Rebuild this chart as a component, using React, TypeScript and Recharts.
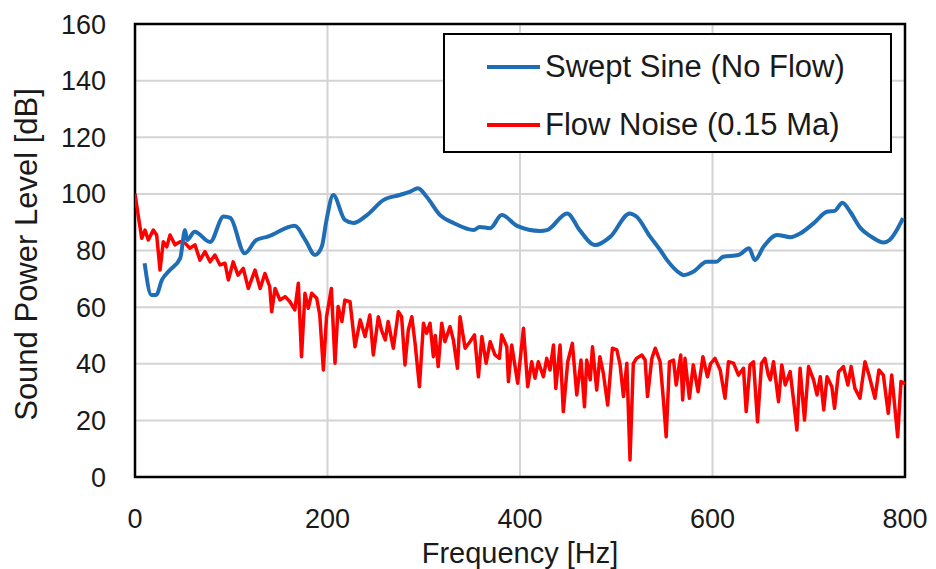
import React from 'react'
import { LineChart, Line, XAxis, YAxis, CartesianGrid, ReferenceArea } from 'recharts'

const FONT = "'Liberation Sans', Arial, sans-serif"
const BLUE = '#1f6eb5'
const RED = '#ff0000'

const xTicks = [0, 200, 400, 600, 800]
const yTicks = [0, 20, 40, 60, 80, 100, 120, 140, 160]

// Swept Sine (No Flow)
const sweptFreq = [
  10, 17, 22, 28, 36, 47, 52, 54, 62, 78, 92, 99, 114, 126, 138, 166, 177, 187, 194, 199,
  206, 218, 227, 241, 258, 275, 286, 294, 303, 317, 331, 352, 358, 369, 381, 397, 421, 428, 449, 462,
  478, 494, 514, 521, 535, 546, 553, 566, 570, 580, 594, 604, 611, 627, 638, 644, 653, 667, 681, 691,
  705, 719, 727, 735, 743, 754, 764, 778, 784, 798,
]
const sweptLevel = [
  75.5, 64.3, 64.3, 69.6, 73, 77.3, 87.2, 83.7, 86.6, 83, 92, 91.5, 79, 83.7, 84.9, 88.7, 83.7, 78.4, 81.3, 90.8,
  99.6, 90.8, 89.7, 92.5, 97.8, 99.6, 100.8, 102, 99, 92.5, 89.7, 87.2, 88.3, 87.9, 92.5, 88.7, 86.9, 87.2, 93.1, 87.2,
  81.9, 84.9, 93.1, 92, 85, 80, 76.5, 72, 71.3, 72.5, 76, 76, 77.8, 78.4, 80.8, 76.6, 81.3, 85.5, 84.7, 86,
  89.6, 93.7, 94, 96.9, 93.7, 87.8, 85.1, 82.8, 83.7, 91.4,
]

// Flow Noise (0.15 Ma)
const noiseFreq = [
  0, 3.5, 7, 10.4, 13.8, 19, 22.5, 26, 29.4, 33, 36.4, 41.6, 46.8, 52, 57, 62.3, 67.5, 72.7, 78, 83,
  88.3, 93.5, 97, 102, 107, 112.5, 117.7, 124.7, 130, 135, 140, 142, 145.5, 150.6, 156, 161, 166, 169.7, 173, 176.6,
  180, 183.6, 188.8, 192, 195.7, 199, 204, 207.8, 211, 215, 218, 223.4, 228.6, 234, 239, 244, 247.6, 252.8, 256, 260,
  263, 268.4, 273.6, 277, 280.5, 284, 287.6, 291, 295.5, 299.7, 303, 306.5, 310, 312, 315, 318.7, 322, 327.3, 330.8, 335,
  337.7, 343, 348, 352.7, 356.8, 360.4, 364.8, 369, 374, 378.6, 381, 386.3, 388, 391.4, 397.6, 403.6, 408, 412.2, 415.6, 419,
  424.3, 427.8, 431.2, 434.8, 437.2, 441.6, 445, 449.6, 454.4, 459, 463.4, 467, 469.3, 473, 475.3, 479.7, 483, 486.6, 491.1, 496,
  500.6, 504, 507.5, 511, 514.3, 517.7, 521, 526.6, 530, 532.5, 537, 540.5, 545.6, 549, 551.9, 555.3, 559.5, 562.3, 567, 569,
  571.4, 576, 580, 585, 590, 594.8, 598, 602.6, 608, 613, 616.6, 621.8, 627, 632.2, 635, 639, 642.6, 646.8, 651, 654.5,
  658, 660, 663.4, 668.6, 672, 675.6, 680.7, 684.2, 687.7, 691, 695.6, 699.8, 705, 708.6, 712, 715.6, 719, 724, 726.8, 731,
  736, 740.7, 744, 748, 753.2, 758.4, 762.6, 768.8, 772.9, 777.5, 782.6, 786.2, 792.4, 795.8, 800,
]
const noiseLevel = [
  100, 92, 84.3, 87.2, 83.7, 87.2, 85.5, 73.1, 83.1, 81.3, 85.5, 82, 83.1, 82.6, 80.8, 82, 76.6, 79.6, 76, 78.4,
  74.9, 75.5, 69.6, 76, 71.3, 73.7, 66.6, 73.1, 66.6, 71.9, 67.2, 58.4, 66.6, 62.5, 63.7, 61.9, 59, 68.4, 42.5, 64.9,
  59.6, 64.9, 63.1, 57.2, 37.8, 56.6, 66.6, 40.2, 60.2, 54.9, 62.5, 61.9, 46, 55.5, 49.6, 57.2, 43.1, 56.6, 52, 48.4,
  54.9, 45.5, 58.4, 56.6, 39.6, 52, 56.6, 47.2, 31.9, 54.3, 50.8, 54.3, 42.5, 50, 39, 54.3, 47.8, 53.1, 48.4, 38.4,
  56.6, 45.5, 47.8, 50.2, 35.4, 49.6, 40.2, 47.8, 43.1, 41.9, 50.2, 46, 33.7, 46.6, 33.1, 52.5, 31.9, 40.7, 34.9, 40.7,
  35.4, 41.9, 37.8, 46.6, 31.3, 46.6, 23.1, 40.7, 47.2, 29, 41.3, 24.8, 41.3, 34.3, 46, 30.7, 42.5, 36.6, 25.4, 45.5,
  44.9, 39.6, 28.4, 40.2, 6, 40, 41.9, 43.1, 41.3, 28.4, 41.9, 45.5, 40.7, 27.2, 14.2, 40.7, 41.3, 32.5, 43.1, 27.2,
  41.9, 27.8, 39.6, 30.1, 42.5, 35.4, 40, 41.9, 37.8, 27.8, 40.7, 40.2, 36, 38.4, 23.1, 39.6, 40.7, 19.5, 40.2, 41.9,
  36, 34.3, 40.7, 26.6, 39.6, 32.5, 37.2, 27.2, 16.6, 38.4, 20.1, 39, 34.3, 29, 35.4, 23.7, 35.4, 31.9, 24.3, 37.2,
  39, 32.5, 39, 31.3, 27.8, 40.7, 36, 27.8, 37.8, 36, 22.5, 36, 14.2, 33.7, 33,
]

const sweptData = sweptFreq.map((f, i) => ({ f, db: sweptLevel[i] }))
const noiseData = noiseFreq.map((f, i) => ({ f, db: noiseLevel[i] }))

const YTitle = ({ viewBox }: any) => {
  const cy = viewBox.y + viewBox.height / 2 + 4
  return (
    <text
      x={26}
      y={cy}
      transform={`rotate(-90 26 ${cy})`}
      textAnchor="middle"
      dominantBaseline="central"
      fill="#1a1a1a"
      fontSize={31}
      fontFamily={FONT}
    >
      Sound Power Level [dB]
    </text>
  )
}

const XTitle = ({ viewBox }: any) => (
  <text
    x={viewBox.x + viewBox.width / 2}
    y={563}
    textAnchor="middle"
    fill="#1a1a1a"
    fontSize={29}
    fontFamily={FONT}
  >
    Frequency [Hz]
  </text>
)

const legendItems = [
  { name: 'Swept Sine (No Flow)', color: BLUE, top: 12 },
  { name: 'Flow Noise (0.15 Ma)', color: RED, top: 70 },
]

export default function App() {
  return (
    <div style={{ position: 'absolute', left: 0, top: 0, width: 936, height: 569, background: '#fff' }}>
      <LineChart width={936} height={569} margin={{ top: 24, right: 31, bottom: 0, left: 0 }}>
        <CartesianGrid stroke="#d4d4d4" strokeWidth={2} />
        <XAxis
          dataKey="f"
          type="number"
          domain={[0, 800]}
          ticks={xTicks}
          allowDataOverflow
          height={92}
          axisLine={false}
          tickLine={false}
          tickSize={0}
          tickMargin={32}
          tick={{ fill: '#1a1a1a', fontSize: 27, fontFamily: FONT }}
          label={<XTitle />}
        />
        <YAxis
          type="number"
          domain={[0, 160]}
          ticks={yTicks}
          allowDataOverflow
          width={135}
          axisLine={false}
          tickLine={false}
          tickSize={0}
          tickMargin={29}
          tick={{ fill: '#1a1a1a', fontSize: 27, fontFamily: FONT }}
          label={<YTitle />}
        />
        <ReferenceArea x1={0} x2={800} y1={0} y2={160} fill="none" stroke="#000" strokeWidth={2.5} />
        <Line
          data={noiseData}
          dataKey="db"
          type="linear"
          stroke={RED}
          strokeWidth={3.5}
          strokeLinejoin="round"
          dot={false}
          isAnimationActive={false}
        />
        <Line
          data={sweptData}
          dataKey="db"
          type="monotone"
          stroke={BLUE}
          strokeWidth={4}
          dot={false}
          isAnimationActive={false}
        />
      </LineChart>
      <div
        style={{
          position: 'absolute',
          left: 443,
          top: 33,
          width: 449,
          height: 120,
          boxSizing: 'border-box',
          border: '2px solid #000',
          background: '#fff',
          fontFamily: FONT,
          fontSize: 31,
          color: '#1a1a1a',
        }}
      >
        {legendItems.map((it) => (
          <div
            key={it.name}
            style={{ position: 'absolute', left: 42, top: it.top, height: 40, display: 'flex', alignItems: 'center', whiteSpace: 'nowrap' }}
          >
            <span style={{ display: 'inline-block', width: 53, height: 4, background: it.color, marginRight: 5 }} />
            <span>{it.name}</span>
          </div>
        ))}
      </div>
    </div>
  )
}
